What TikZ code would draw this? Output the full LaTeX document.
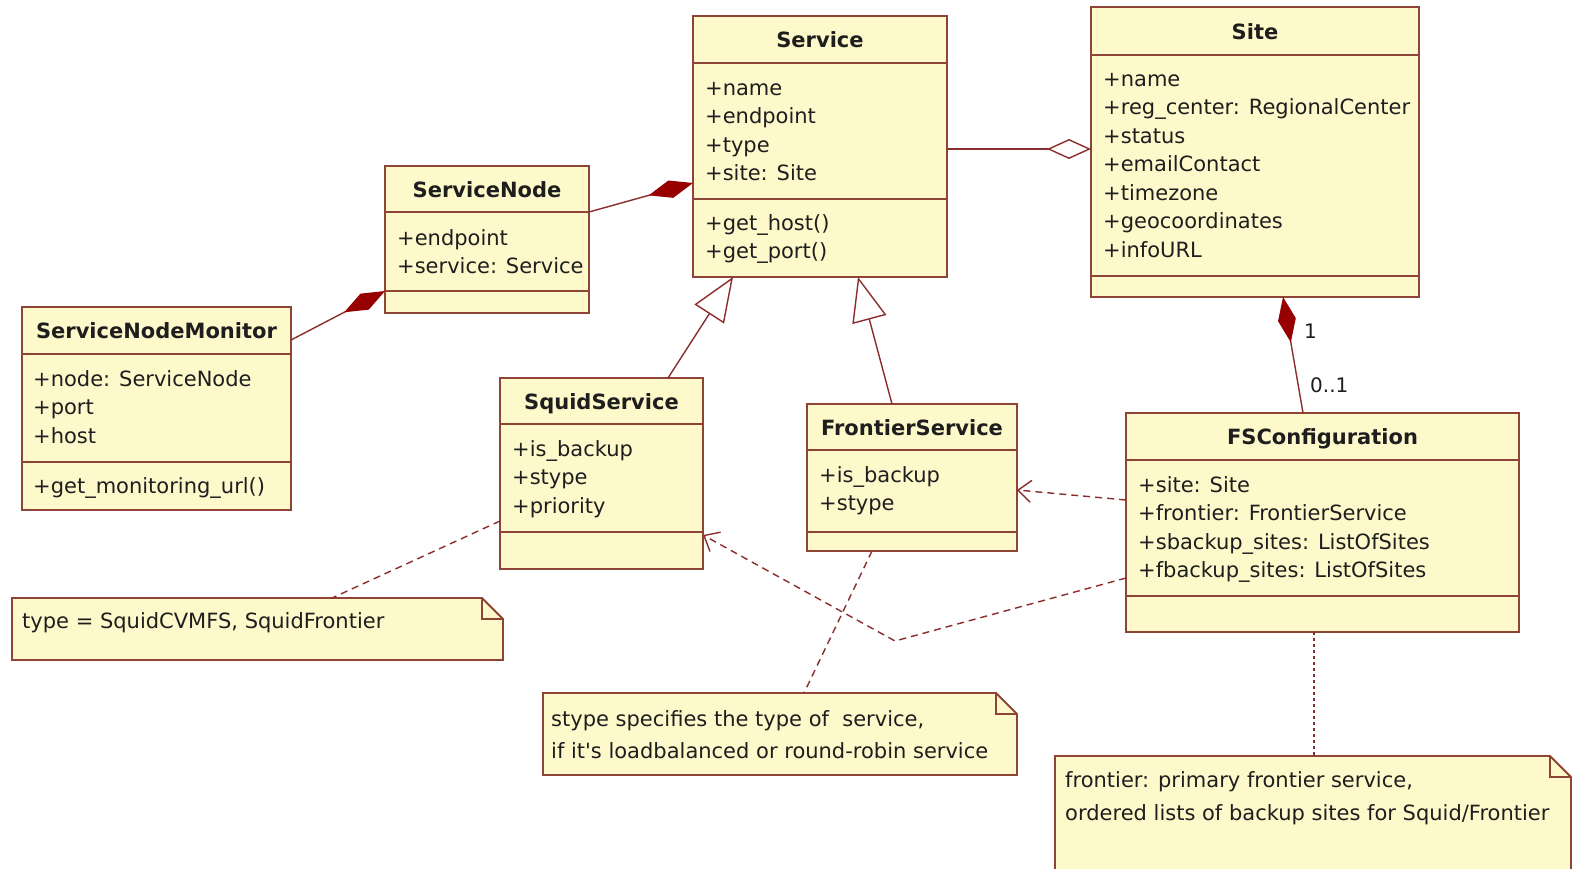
\documentclass[tikz,border=0pt]{standalone}
\usepackage{fontspec}
\setmainfont{DejaVu Sans}
\usetikzlibrary{arrows.meta}

\definecolor{umlfill}{RGB}{254,249,203}
\definecolor{umlline}{RGB}{142,68,54}
\definecolor{umlwire}{RGB}{140,45,45}
\definecolor{umldia}{RGB}{150,0,0}
\definecolor{umltext}{RGB}{30,30,30}

\tikzset{
  classbox/.style={draw=umlline, fill=umlfill, line width=1.9pt, inner sep=0pt, outer sep=0pt, anchor=north west},
  classtitle/.style={font=\fontsize{21}{25}\selectfont\bfseries, text=umltext, anchor=base, inner sep=0pt},
  member/.style={font=\fontsize{21}{25}\selectfont, text=umltext, anchor=base west, inner sep=0pt},
  divider/.style={draw=umlline, line width=1.9pt},
  notebox/.style={inner sep=0pt, outer sep=0pt, anchor=north west},
  noteline/.style={draw=umlline, line width=1.9pt, line join=miter},
  wire/.style={draw=umlwire, line width=1.4pt},
  depwire/.style={wire, dash pattern=on 7pt off 5pt},
  finewire/.style={wire, dash pattern=on 3pt off 3pt},
  composed/.style={-{Diamond[length=46pt,width=18pt,fill=umldia,color=umldia]}},
  aggregated/.style={-{Diamond[length=44pt,width=20pt,fill=white]}},
  inherits/.style={-{Triangle[length=44pt,width=35pt,fill=white]}},
  depends/.style={-{Straight Barb[length=13pt,width=22pt]}},
  mult/.style={font=\fontsize{20}{24}\selectfont, text=umltext, anchor=base west, inner sep=0pt},
}

% class box: name, left, top, right, bottom, title divider, attribute divider, title
\newcommand\umlclass[8]{%
  \node[classbox, minimum width={#4-#2}, minimum height={#5-#3}] (#1) at (#2,#3) {};
  \draw[divider] (#2,#6) -- (#4,#6);
  \draw[divider] (#2,#7) -- (#4,#7);
  \node[classtitle] (#1-title) at ({(#2+#4)/2},{(#3+#6)/2+8}) {#8};
}
% rows of members: name prefix, x, first baseline, list
\newcommand\umlrows[4]{%
  \foreach \txt [count=\idx] in {#4} {\node[member] (#1\idx) at (#2,{#3+28.5*(\idx-1)}) {\txt};}%
}
% note with folded corner: name, left, top, right, bottom, fold
\newcommand\umlnote[6]{%
  \node[notebox, minimum width={#4-#2}, minimum height={#5-#3}] (#1) at (#2,#3) {};
  \filldraw[noteline, fill=umlfill] (#1.north west) -- ([xshift=-#6pt]#1.north east)
    -- ([yshift=-#6pt]#1.north east) -- (#1.south east) -- (#1.south west) -- cycle;
  \draw[noteline] ([xshift=-#6pt]#1.north east) -- ++(0,#6) -- ([yshift=-#6pt]#1.north east);
}

\begin{document}
\begin{tikzpicture}[x=1pt,y=-1pt]
\fill[white] (0,0) rectangle (1576,868);
\useasboundingbox (0,0) rectangle (1576,868);
\clip (0,0) rectangle (1576,868);

% classes
\umlclass{service}{693}{16}{947}{277}{63}{199}{Service}
\umlrows{service-a}{705}{95}{+name,+endpoint,+type,+site: Site}
\umlrows{service-m}{705}{230}{+get\_host(),+get\_port()}

\umlclass{site}{1091}{7}{1419}{297}{55}{276}{Site}
\umlrows{site-a}{1103}{86}{+name,+reg\_center: RegionalCenter,+status,+emailContact,+timezone,+geocoordinates,+infoURL}

\umlclass{servicenode}{385}{166}{589}{313}{212}{291}{ServiceNode}
\umlrows{servicenode-a}{397}{245}{+endpoint,+service: Service}

\umlclass{monitor}{22}{307}{291}{510}{354}{462}{ServiceNodeMonitor}
\umlrows{monitor-a}{33}{386}{+node: ServiceNode,+port,+host}
\umlrows{monitor-m}{33}{493}{+get\_monitoring\_url()}

\umlclass{squid}{500}{378}{703}{569}{424}{532}{SquidService}
\umlrows{squid-a}{512}{456}{+is\_backup,+stype,+priority}

\umlclass{frontier}{807}{404}{1017}{551}{450}{532}{FrontierService}
\umlrows{frontier-a}{819}{482}{+is\_backup,+stype}

\umlclass{fsconf}{1126}{413}{1519}{632}{460}{596}{FSConfiguration}
\umlrows{fsconf-a}{1138}{492}{+site: Site,+frontier: FrontierService,+sbackup\_sites: ListOfSites,+fbackup\_sites: ListOfSites}

% notes
\umlnote{note1}{12}{598}{503}{660}{21}
\node[member] (note1-t1) at (22,628) {type = SquidCVMFS, SquidFrontier};

\umlnote{note2}{543}{693}{1017}{775}{21}
\node[member] (note2-t1) at (551,726) {stype specifies the type of\ \ service,};
\node[member] (note2-t2) at (551,758) {if it\textquotesingle s loadbalanced or round-robin service};

\umlnote{note3}{1055}{756}{1571}{900}{21}
\node[member] (note3-t1) at (1065,787) {frontier: primary frontier service,};
\node[member] (note3-t2) at (1065,820) {ordered lists of backup sites for Squid/Frontier};

% associations
\draw[wire, aggregated] ([yshift=-133pt]service.north east) -- ([yshift=-142pt]site.north west);
\draw[wire, composed] ([yshift=-46pt]servicenode.north east) -- ([yshift=-167pt]service.north west);
\draw[wire, composed] ([yshift=-33pt]monitor.north east) -- ([yshift=-125pt]servicenode.north west);
\draw[wire, composed] ([xshift=177pt]fsconf.north west) -- ([xshift=192pt]site.south west);
\node[mult] (mult-one) at (1304,338) {1};
\node[mult] (mult-opt) at (1310,392) {0..1};

% generalizations
\draw[wire, inherits] ([xshift=168pt]squid.north west) -- ([xshift=40pt]service.south west);
\draw[wire, inherits] ([xshift=85pt]frontier.north west) -- ([xshift=165pt]service.south west);

% dependencies
\draw[depwire, depends] ([yshift=-87pt]fsconf.north west) -- ([yshift=-86pt]frontier.north east);
\coordinate (squid-bend) at (895,641);
\draw[depwire, depends] ([yshift=-165pt]fsconf.north west) -- (squid-bend) -- ([yshift=-157pt]squid.north east);

% note anchors
\draw[depwire] ([yshift=-143pt]squid.north west) -- ([xshift=320pt]note1.north west);
\draw[depwire] ([xshift=65pt]frontier.south west) -- ([xshift=261pt]note2.north west);
\draw[finewire] ([xshift=188pt]fsconf.south west) -- ([xshift=259pt]note3.north west);
\end{tikzpicture}
\end{document}
